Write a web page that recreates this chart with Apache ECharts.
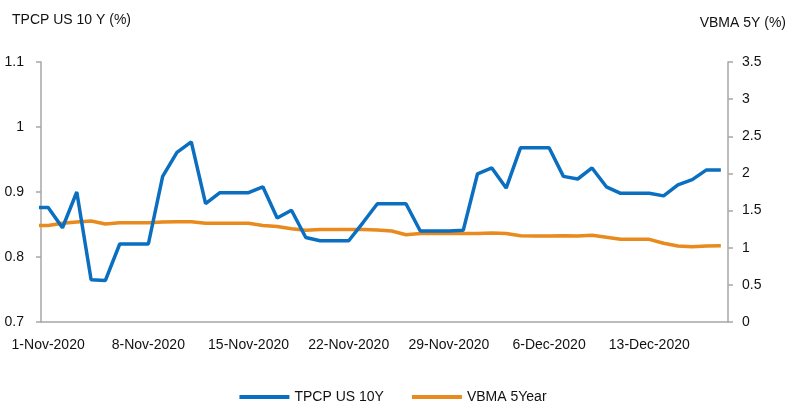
<!DOCTYPE html>
<html>
<head>
<meta charset="utf-8">
<script src="https://cdn.jsdelivr.net/npm/echarts@6/dist/echarts.min.js"></script>
<style>html,body{margin:0;padding:0;background:#fff}#c{width:786px;height:409px}</style>
</head>
<body>
<div id="c"></div>
<script>
// Daily dates (31-Oct is before the axis start and is clipped, as in the source)
const dates = ['31-Oct-2020',
 '1-Nov-2020','2-Nov-2020','3-Nov-2020','4-Nov-2020','5-Nov-2020','6-Nov-2020','7-Nov-2020',
 '8-Nov-2020','9-Nov-2020','10-Nov-2020','11-Nov-2020','12-Nov-2020','13-Nov-2020','14-Nov-2020',
 '15-Nov-2020','16-Nov-2020','17-Nov-2020','18-Nov-2020','19-Nov-2020','20-Nov-2020','21-Nov-2020',
 '22-Nov-2020','23-Nov-2020','24-Nov-2020','25-Nov-2020','26-Nov-2020','27-Nov-2020','28-Nov-2020',
 '29-Nov-2020','30-Nov-2020','1-Dec-2020','2-Dec-2020','3-Dec-2020','4-Dec-2020','5-Dec-2020',
 '6-Dec-2020','7-Dec-2020','8-Dec-2020','9-Dec-2020','10-Dec-2020','11-Dec-2020','12-Dec-2020',
 '13-Dec-2020','14-Dec-2020','15-Dec-2020','16-Dec-2020','17-Dec-2020','18-Dec-2020'];

const tpcpUS10Y = [0.876,
 0.876,0.845,0.900,0.765,0.764,0.820,0.820,
 0.820,0.924,0.961,0.977,0.882,0.899,0.899,
 0.899,0.908,0.860,0.872,0.830,0.825,0.825,
 0.825,0.853,0.882,0.882,0.882,0.840,0.840,
 0.840,0.841,0.928,0.937,0.906,0.968,0.968,
 0.968,0.924,0.920,0.937,0.908,0.898,0.898,
 0.898,0.894,0.911,0.919,0.934,0.934];

const vbma5Y = [1.300,
 1.300,1.330,1.345,1.360,1.320,1.335,1.335,
 1.335,1.345,1.350,1.350,1.330,1.330,1.330,
 1.330,1.300,1.285,1.255,1.235,1.245,1.245,
 1.245,1.245,1.238,1.225,1.175,1.190,1.190,
 1.190,1.190,1.190,1.198,1.190,1.160,1.158,
 1.158,1.162,1.158,1.167,1.140,1.113,1.113,
 1.113,1.060,1.023,1.012,1.022,1.027];

const leftTicks = {min: 0.7, max: 1.1, step: 0.1};
const rightTicks = {min: 0, max: 3.5, step: 0.5};
const seriesNames = ['TPCP US 10Y', 'VBMA 5Year'];
const axisTitles = ['TPCP US 10 Y (%)', 'VBMA 5Y (%)'];

const axisDays = dates.slice(1);
const toPoints = vals => vals.map((v, i) => [i - 0.5, v]);

const FONT = '"Liberation Sans Narrow","Arial Narrow","Liberation Sans",sans-serif';
const AX = '#a6a6a6';

const chart = echarts.init(document.getElementById('c'), null, {renderer: 'canvas'});
chart.setOption({
  animation: false,
  backgroundColor: '#fff',
  textStyle: {fontFamily: FONT},
  grid: {left: 41, right: 58, top: 62, bottom: 87, containLabel: false},
  graphic: [
    {type: 'text', left: 12, top: 13, style: {text: axisTitles[0], font: '14px ' + FONT, fill: '#111'}},
    {type: 'text', right: 0, top: 16, style: {text: axisTitles[1], font: '14px ' + FONT, fill: '#111'}}
  ],
  legend: {
    bottom: 0, left: 'center',
    icon: 'rect', itemWidth: 50, itemHeight: 4, itemGap: 28,
    textStyle: {fontFamily: FONT, fontSize: 14, color: '#111'},
    data: seriesNames
  },
  xAxis: [
    {
      type: 'category', data: axisDays, boundaryGap: true,
      axisLine: {lineStyle: {color: AX, width: 1.5}},
      axisTick: {interval: 6, length: 5, lineStyle: {color: AX, width: 1.5}},
      axisLabel: {interval: 6, color: '#111', fontSize: 14, fontFamily: FONT, margin: 16},
      splitLine: {show: false}
    },
    {
      type: 'value', min: 0, max: axisDays.length, show: false
    }
  ],
  yAxis: [
    {
      type: 'value', min: leftTicks.min, max: leftTicks.max, interval: leftTicks.step,
      axisLine: {show: true, lineStyle: {color: AX, width: 1.5}},
      axisTick: {show: true, length: 5, lineStyle: {color: AX, width: 1.5}},
      axisLabel: {color: '#111', fontSize: 14, fontFamily: FONT, margin: 17},
      splitLine: {show: false}
    },
    {
      type: 'value', min: rightTicks.min, max: rightTicks.max, interval: rightTicks.step,
      position: 'right',
      axisLine: {show: true, lineStyle: {color: AX, width: 1.5}},
      axisTick: {show: true, length: 5, lineStyle: {color: AX, width: 1.5}},
      axisLabel: {color: '#111', fontSize: 14, fontFamily: FONT, margin: 14},
      splitLine: {show: false}
    }
  ],
  series: [
    {
      name: seriesNames[0], type: 'line', xAxisIndex: 1, yAxisIndex: 0,
      data: toPoints(tpcpUS10Y), showSymbol: false, symbol: 'none', clip: true,
      lineStyle: {color: '#0a6fc0', width: 3.5}, itemStyle: {color: '#0a6fc0'}, z: 3
    },
    {
      name: seriesNames[1], type: 'line', xAxisIndex: 1, yAxisIndex: 1,
      data: toPoints(vbma5Y), showSymbol: false, symbol: 'none', clip: true,
      lineStyle: {color: '#e88a1e', width: 3.5}, itemStyle: {color: '#e88a1e'}, z: 2
    }
  ]
});
</script>
</body>
</html>
